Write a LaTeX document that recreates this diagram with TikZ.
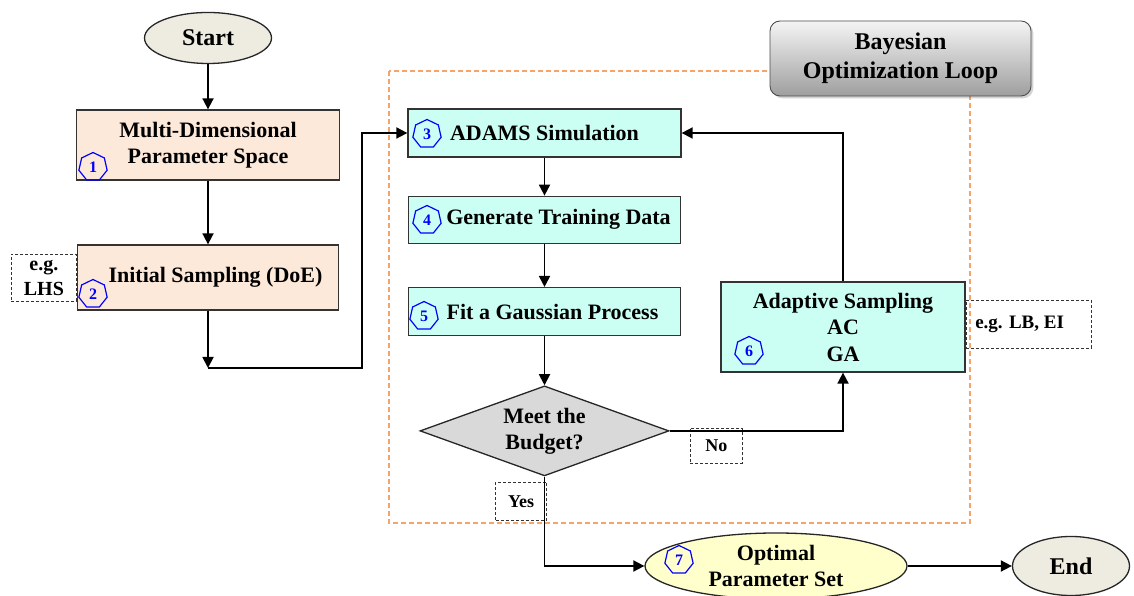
\documentclass[tikz,border=0pt]{standalone}
\usepackage{fontspec}
\setmainfont{Liberation Serif}
\usetikzlibrary{arrows.meta,positioning,shapes.geometric,shadows}
\definecolor{peach}{HTML}{FDE9D9}
\definecolor{loopcyan}{HTML}{CCFFF4}
\definecolor{termgray}{HTML}{EEECE1}
\definecolor{optyellow}{HTML}{FFFFCC}
\definecolor{decgray}{HTML}{D9D9D9}
\definecolor{loopor}{HTML}{F7A468}
\newcommand{\mainfont}{\fontsize{22}{26}\selectfont\bfseries}

\begin{document}
\begin{tikzpicture}[x=1pt,y=1pt,
    every node/.style={font=\mainfont},
    pbox/.style={draw=black!80,line width=1.3pt,fill=peach,align=center,inner sep=0pt},
    cbox/.style={draw=black!80,line width=1.3pt,fill=loopcyan,align=center,inner sep=0pt},
    term/.style={ellipse,draw=black!85,line width=1.3pt,fill=termgray,inner sep=0pt,align=center},
    decide/.style={diamond,aspect=2.77,draw=black!85,line width=1.3pt,fill=decgray,inner sep=0pt,align=center,minimum width=249pt,minimum height=90pt},
    note/.style={draw=black!80,dash pattern=on 3pt off 2pt,line width=0.9pt,align=center,inner sep=0pt},
    hept/.style={regular polygon,regular polygon sides=7,draw=blue,line width=1.2pt,text=blue,inner sep=0pt,minimum size=29pt,font=\fontsize{16}{16}\selectfont\bfseries},
    bayes/.style={draw=black!70,line width=0.9pt,rounded corners=10pt,top color=black!4,bottom color=black!38,drop shadow={opacity=0.35},align=center,minimum width=261pt,minimum height=75pt,font=\fontsize{24}{29}\selectfont\bfseries},
    arr/.style={-{Triangle[length=11pt,width=11pt]},line width=1.8pt}
]
\useasboundingbox (0,0) rectangle (1134,596);

% Loop frame (behind everything)
\draw[loopor,line width=1.2pt,dash pattern=on 5pt off 3pt] (389,525) rectangle (970,73);
\node[bayes] (bayes) at (900.5,537.5) {Bayesian\\Optimization Loop};

% Left column: setup
\node[term,minimum width=127pt,minimum height=51pt,font=\fontsize{24}{28}\selectfont\bfseries] (start) at (208,558) {Start};
\node[pbox,minimum width=263pt,minimum height=70pt] (param) at (208,451) {Multi-Dimensional\\Parameter Space};
\node[pbox,minimum width=261pt,minimum height=65pt] (init) at (208,318.5) {\hspace*{15pt}Initial Sampling (DoE)};
\node[note,left=0pt of init,minimum width=65pt,minimum height=47pt,font=\fontsize{20}{25}\selectfont\bfseries] (lhs) {e.g.\\LHS};

% Loop column
\node[cbox,minimum width=273pt,minimum height=48pt] (adams) at (544.5,463) {ADAMS Simulation};
\node[cbox,minimum width=272pt,minimum height=47pt,below=38pt of adams] (gen) {\hspace*{28pt}Generate Training Data};
\node[cbox,minimum width=272pt,minimum height=48pt,below=43pt of gen] (fit) {\hspace*{16pt}Fit a Gaussian Process};
\node[decide,below=49pt of fit] (budget) {Meet the\\Budget?};
\node[cbox,minimum width=244pt,minimum height=90pt,font=\fontsize{22}{26.5}\selectfont\bfseries] (adapt) at (843,269) {Adaptive Sampling\\AC\\GA};
\node[note,right=0pt of adapt,yshift=3pt,minimum width=125pt,minimum height=48pt,font=\fontsize{19}{22}\selectfont\bfseries] (lbei) {e.g. LB, EI\hspace*{18pt}};
\node[note,anchor=north west,minimum width=52pt,minimum height=35pt,font=\fontsize{18}{20}\selectfont\bfseries] (no) at (690,168) {No};
\node[note,anchor=north east,minimum width=51pt,minimum height=38pt,font=\fontsize{18}{20}\selectfont\bfseries] (yes) at (547,114) {Yes};

% Bottom row: result
\node[term,fill=optyellow,minimum width=262pt,minimum height=66pt] (opt) at (776,30) {Optimal\\Parameter Set};
\node[term,minimum width=117pt,minimum height=59pt,font=\fontsize{24}{28}\selectfont\bfseries] (finish) at (1071,30) {End};

% Step markers
\node[hept] (m1) at (93,429) {1};
\node[hept] (m2) at (93,302) {2};
\node[hept] (m3) at (427,462) {3};
\node[hept] (m4) at (427,376) {4};
\node[hept] (m5) at (424,280) {5};
\node[hept] (m6) at (749,245) {6};
\node[hept] (m7) at (679,36) {7};

% Connectors
\coordinate (drop) at (208,228);
\coordinate (jog) at (362,228);
\draw[arr] (start) -- (param);
\draw[arr] (param) -- (init);
\draw[arr] (init) -- (drop);
\draw[arr] (drop) -- (jog) |- (adams.west);
\draw[arr] (adams) -- (gen);
\draw[arr] (gen) -- (fit);
\draw[arr] (fit) -- (budget);
\draw[arr] (budget.east) -| (adapt.south);
\draw[arr] (adapt.north) |- (adams.east);
\draw[arr] (budget.south) |- (opt.west);
\draw[arr] (opt) -- (finish);
\end{tikzpicture}
\end{document}
